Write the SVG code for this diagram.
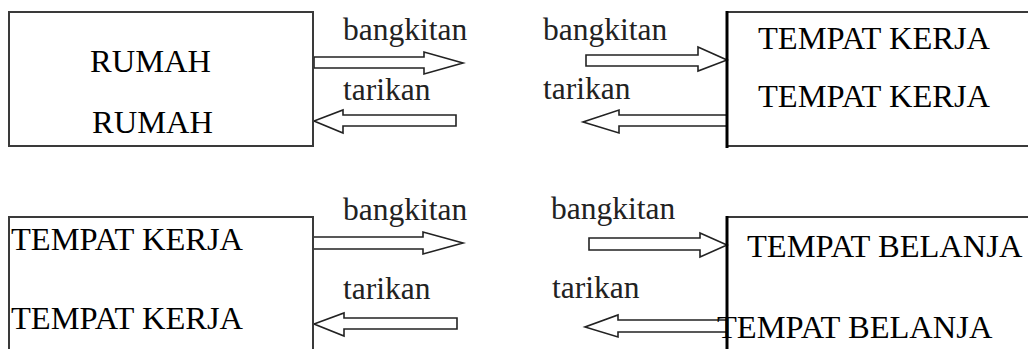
<svg xmlns="http://www.w3.org/2000/svg" width="1028" height="349" viewBox="0 0 1028 349">
<style>
.box{fill:none;stroke:#3a3a3a;stroke-width:2}
.edge{fill:none;stroke:#000;stroke-width:3}
.arr{fill:#fff;stroke:#222;stroke-width:1.6;stroke-linejoin:miter}
.t{font-family:'Liberation Serif','Times New Roman',serif;font-size:32.5px;fill:#000}
.lbl{font-family:'Liberation Serif','Times New Roman',serif;font-size:31.5px;fill:#222}
</style>
<rect width="1028" height="349" fill="#fff"/>
<g id="connectors">
<polygon class="arr" points="314,57 424,57 424,52 463,63 424,74 424,68 314,68"/>
<polygon class="arr" points="456,115 343,115 343,110 314,121 343,133 343,126 456,126"/>
<polygon class="arr" points="586,55 698,55 698,47 727,60 698,71 698,66 586,66"/>
<polygon class="arr" points="727,115 619,115 619,110 583,122 619,133 619,126 727,126"/>
<polygon class="arr" points="313,237 423,237 423,232 463,243 423,254 423,249 313,249"/>
<polygon class="arr" points="457,318 344,318 344,313 314,324 344,336 344,329 457,329"/>
<polygon class="arr" points="589,238 700,238 700,233 727,245 700,257 700,250 589,250"/>
<polygon class="arr" points="727,320 618,320 618,315 585,327 618,337 618,332 727,332"/>
<g class="lbl">
<text x="343" y="40">bangkitan</text>
<text x="343" y="100">tarikan</text>
<text x="543" y="40">bangkitan</text>
<text x="543" y="99">tarikan</text>
<text x="343" y="220">bangkitan</text>
<text x="343" y="299">tarikan</text>
<text x="551" y="219">bangkitan</text>
<text x="552" y="298">tarikan</text>
</g>
</g>
<g id="rumah" class="t">
<rect class="box" x="9" y="12" width="304" height="134"/>
<text x="90" y="72">RUMAH</text>
<text x="92" y="133">RUMAH</text>
</g>
<g id="tempat-kerja-1" class="t">
<path class="box" d="M1030,12 H727 M727,146 H1030"/>
<line class="edge" x1="727" y1="11" x2="727" y2="148"/>
<text x="758" y="49">TEMPAT KERJA</text>
<text x="758" y="107">TEMPAT KERJA</text>
</g>
<g id="tempat-kerja-2" class="t">
<path class="box" d="M9,352 V217 H313 V352"/>
<text x="11" y="250">TEMPAT KERJA</text>
<text x="11" y="329">TEMPAT KERJA</text>
</g>
<g id="tempat-belanja" class="t">
<path class="box" d="M1030,217 H727"/>
<line class="edge" x1="727" y1="216" x2="727" y2="352"/>
<text x="747" y="257">TEMPAT BELANJA</text>
<text x="717" y="338">TEMPAT BELANJA</text>
</g>
</svg>
